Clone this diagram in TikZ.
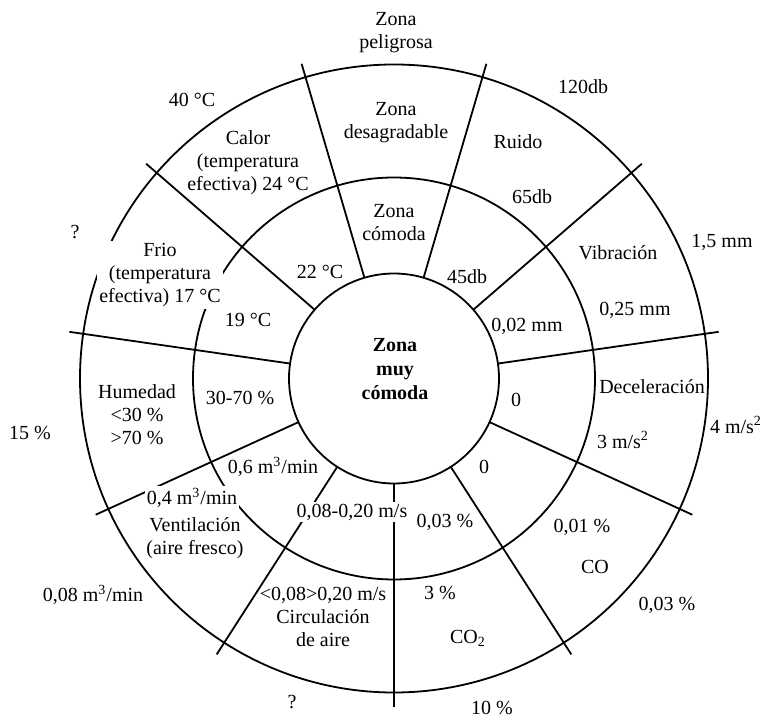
\documentclass[tikz,border=0pt]{standalone}
\usepackage{fontspec}
\setmainfont{Liberation Serif}
\usepackage{tikz}
\usetikzlibrary{calc}
\tikzset{
  ring/.style={draw, line width=0.9pt},
  spoke/.style={line width=0.9pt},
  lbl/.style={align=center, inner sep=1pt, font=\fontsize{10}{11.5}\selectfont},
  masked/.style={lbl, fill=white},
  core/.style={lbl, font=\fontsize{10}{12}\selectfont\bfseries}
}

\begin{document}
\begin{tikzpicture}[x=0.5pt,y=0.5pt]
    \useasboundingbox (0,0) rectangle (761,719);
    \coordinate (c) at (394,340.5);
    % eleven equal sectors, one spoke pointing straight down
    \foreach \k in {0,...,10}
        \draw[spoke] ($(c)+({-90+\k*360/11}:105)$) -- ($(c)+({-90+\k*360/11}:328)$);
    \draw[ring] (c) circle[radius=105];
    \draw[ring] (c) circle[radius=201];
    \draw[ring] (c) circle[radius=314];
    % centre
    \node[core] (muy) at (395,349.5) {Zona\\muy\\cómoda};
    % top sector
    \node[lbl] (pel) at (396,686) {Zona\\peligrosa};
    \node[lbl] (desag) at (396,596.5) {Zona\\desagradable};
    \node[lbl] (comoda) at (394,496) {Zona\\cómoda};
    % ruido
    \node[lbl] (db120) at (583,632) {120db};
    \node[lbl] (ruido) at (518,577) {Ruido};
    \node[lbl] (db65) at (532,522) {65db};
    \node[lbl] (db45) at (467,442) {45db};
    % vibracion
    \node[lbl] (mm15) at (722,477) {1,5 mm};
    \node[lbl] (vib) at (618,466) {Vibración};
    \node[lbl] (mm025) at (635,409) {0,25 mm};
    \node[lbl] (mm002) at (527,393) {0,02 mm};
    % deceleracion
    \node[lbl] (decel) at (652,332) {Deceleración};
    \node[lbl] (ms4) at (736,294) {4 m/s\textsuperscript{2}};
    \node[lbl] (ms3) at (623,279) {3 m/s\textsuperscript{2}};
    \node[lbl] (dec0) at (516,319) {0};
    % CO
    \node[lbl] (co0) at (484,252) {0};
    \node[lbl] (co001) at (582,192) {0,01 \%};
    \node[lbl] (co) at (595,152) {CO};
    \node[lbl] (co003) at (667,114) {0,03 \%};
    % CO2
    \node[lbl] (cod003) at (445,197) {0,03 \%};
    \node[lbl] (cod3) at (440,126) {3 \%};
    \node[lbl] (cod) at (468,81) {CO\textsubscript{2}};
    \node[lbl] (cod10) at (492,11) {10 \%};
    % circulacion de aire
    \node[masked] (circin) at (352,207) {0,08-0,20 m/s};
    \node[lbl] (circ) at (323,101.7) {<0,08>0,20 m/s\\Circulación\\de aire};
    \node[lbl] (circq) at (292,17) {?};
    % ventilacion
    \node[lbl] (vent06) at (273,252) {0,6 m\textsuperscript{3}/min};
    \node[masked] (vent04) at (192,221) {0,4 m\textsuperscript{3}/min};
    \node[lbl] (vent) at (195,180.5) {Ventilación\\(aire fresco)};
    \node[lbl] (vent008) at (93,124) {0,08 m\textsuperscript{3}/min};
    % humedad
    \node[lbl] (hum) at (137,304) {Humedad\\<30 \%\\>70 \%};
    \node[lbl] (hum3070) at (240,321) {30-70 \%};
    \node[lbl] (hum15) at (30,286) {15 \%};
    % frio
    \node[masked] (frio) at (160,444) {Frio\\(temperatura\\efectiva) 17 °C};
    \node[lbl] (frio19) at (248,399) {19 °C};
    \node[lbl] (frioq) at (75,487) {?};
    % calor
    \node[lbl] (calor) at (248,556) {Calor\\(temperatura\\efectiva) 24 °C};
    \node[lbl] (calor40) at (192,619) {40 °C};
    \node[lbl] (calor22) at (320,447) {22 °C};
\end{tikzpicture}
\end{document}
